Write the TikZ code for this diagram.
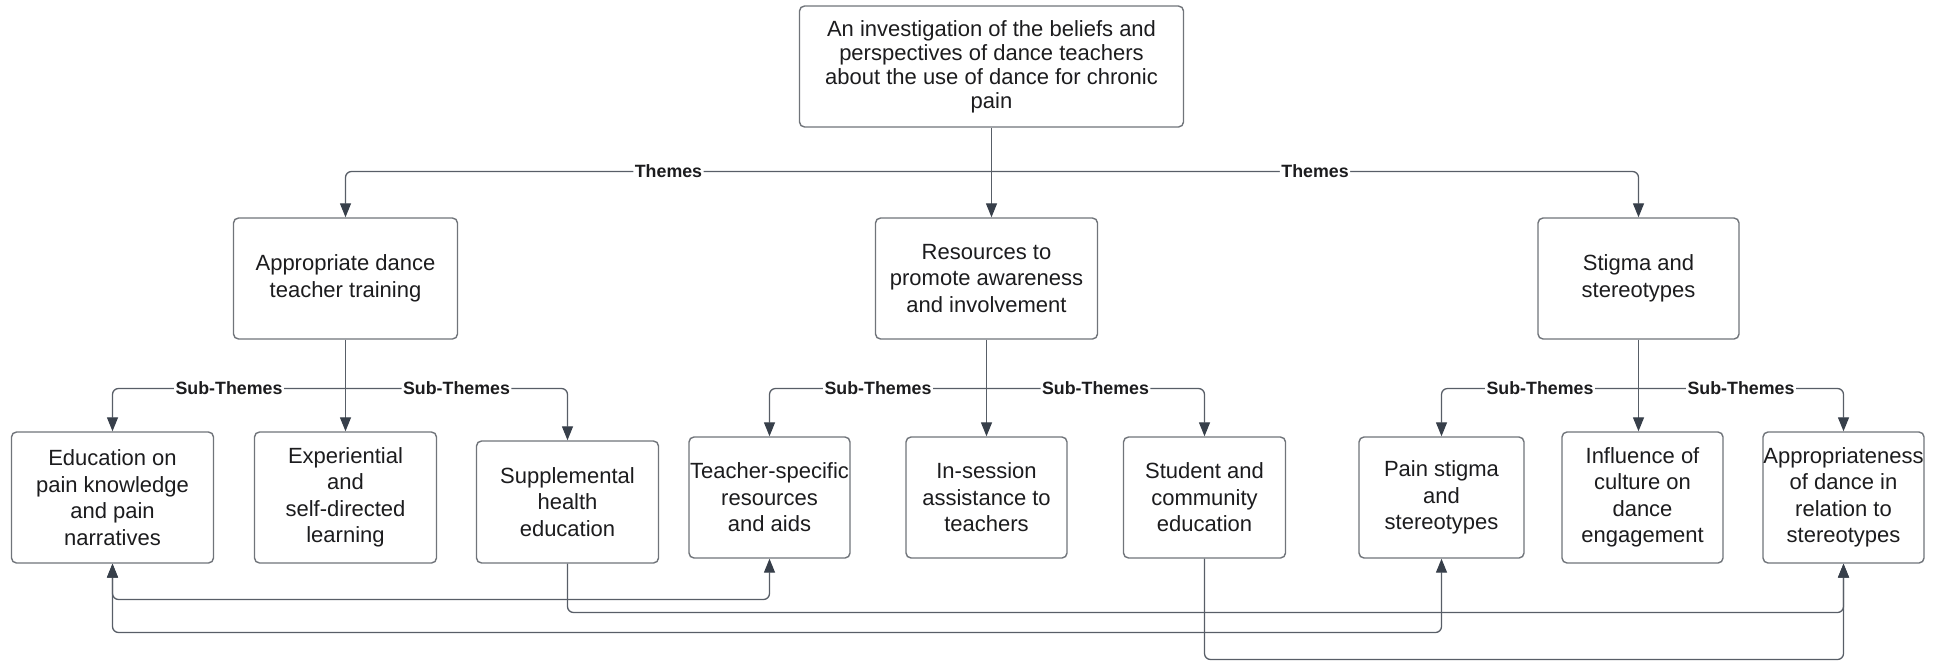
\documentclass[tikz,border=0pt]{standalone}
\usepackage{fontspec}
\setmainfont{Liberation Sans}
\usetikzlibrary{arrows.meta}
\definecolor{boxc}{RGB}{112,116,122}
\definecolor{linec}{RGB}{88,94,103}
\definecolor{tipc}{RGB}{55,63,74}
\definecolor{txt}{RGB}{28,28,30}
\begin{document}
\begin{tikzpicture}[x=1pt,y=-1pt,
  box/.style={draw=boxc, line width=1.4pt, rounded corners=5pt, fill=white,
    align=center, inner sep=0pt, text=txt,
    font=\fontsize{22}{26.5}\selectfont},
  link/.style={draw=linec, line width=1.3pt, rounded corners=6pt},
  tipend/.style={-{Triangle[length=14pt,width=11pt,color=tipc]}},
  tipboth/.style={{Triangle[length=14pt,width=11pt,color=tipc]}-{Triangle[length=14pt,width=11pt,color=tipc]}},
  lbl/.style={fill=white, inner sep=1.5pt, text=txt,
    font=\bfseries\fontsize{17.8}{20}\selectfont}]
\useasboundingbox (0,0) rectangle (1946,662);

% root
\node[box, minimum width=384pt, minimum height=121pt,
  font=\fontsize{22}{24}\selectfont] (top) at (991.5,66.5)
  {An investigation of the beliefs and\\perspectives of dance teachers\\about the use of dance for chronic\\pain};

% themes
\node[box, minimum width=224pt, minimum height=121pt] (ATT) at (345.5,278.5)
  {Appropriate dance\\teacher training};
\node[box, minimum width=222pt, minimum height=121pt] (RES) at (986.5,278.5)
  {Resources to\\promote awareness\\and involvement};
\node[box, minimum width=201pt, minimum height=121pt] (STG) at (1638.5,278.5)
  {Stigma and\\stereotypes};

% sub-themes
\node[box, minimum width=202pt, minimum height=131pt] (Edu) at (112.5,497.5)
  {Education on\\pain knowledge\\and pain\\narratives};
\node[box, minimum width=182pt, minimum height=131pt] (Exp) at (345.5,497.5)
  {Experiential\\and\\self-directed\\learning};
\node[box, minimum width=182pt, minimum height=122pt] (Sup) at (567.5,502)
  {Supplemental\\health\\education};
\node[box, minimum width=161pt, minimum height=121pt] (Tea) at (769.5,497.5)
  {Teacher-specific\\resources\\and aids};
\node[box, minimum width=161pt, minimum height=121pt] (InS) at (986.5,497.5)
  {In-session\\assistance to\\teachers};
\node[box, minimum width=162pt, minimum height=121pt] (Stu) at (1204.5,497.5)
  {Student and\\community\\education};
\node[box, minimum width=165pt, minimum height=121pt] (Pai) at (1441.5,497.5)
  {Pain stigma\\and\\stereotypes};
\node[box, minimum width=161pt, minimum height=131pt] (Inf) at (1642.5,497.5)
  {Influence of\\culture on\\dance\\engagement};
\node[box, minimum width=161pt, minimum height=131pt] (App) at (1843.5,497.5)
  {Appropriateness\\of dance in\\relation to\\stereotypes};

% rail heights
\coordinate (yT) at (0,171.5);
\coordinate (yS) at (0,388.5);
\coordinate (yA) at (0,599.5);
\coordinate (yB) at (0,612.5);
\coordinate (yC) at (0,632.5);
\coordinate (yD) at (0,659.5);

% branch points
\coordinate (jT) at (top.south |- yT);
\coordinate (jA) at (ATT.south |- yS);
\coordinate (jR) at (RES.south |- yS);
\coordinate (jS) at (STG.south |- yS);

% root -> themes
\draw[link, tipend] (top.south) -- (top.south |- RES.north);
\draw[link, tipend] (jT) -| (ATT.north) node[lbl, pos=0.25] {Themes};
\draw[link, tipend] (jT) -| (STG.north) node[lbl, pos=0.25] {Themes};

% theme -> sub-themes
\draw[link, tipend] (ATT.south) -- (ATT.south |- Exp.north);
\draw[link, tipend] (jA) -| (Edu.north) node[lbl, pos=0.25] {Sub-Themes};
\draw[link, tipend] (jA) -| (Sup.north) node[lbl, pos=0.25] {Sub-Themes};

\draw[link, tipend] (RES.south) -- (RES.south |- InS.north);
\draw[link, tipend] (jR) -| (Tea.north) node[lbl, pos=0.25] {Sub-Themes};
\draw[link, tipend] (jR) -| (Stu.north) node[lbl, pos=0.25] {Sub-Themes};

\draw[link, tipend] (STG.south) -- (STG.south |- Inf.north);
\draw[link, tipend] (jS) -| (Pai.north) node[lbl, pos=0.25] {Sub-Themes};
\draw[link, tipend] (jS) -| (App.north) node[lbl, pos=0.25] {Sub-Themes};

% cross links between sub-themes
\draw[link, tipboth] (Edu.south) -- (Edu.south |- yA) -| (Tea.south);
\draw[link, tipboth] (Edu.south) -- (Edu.south |- yC) -| (Pai.south);
\draw[link, tipend] (Sup.south) -- (Sup.south |- yB) -| (App.south);
\draw[link, tipend] (Stu.south) -- (Stu.south |- yD) -| (App.south);
\end{tikzpicture}
\end{document}
